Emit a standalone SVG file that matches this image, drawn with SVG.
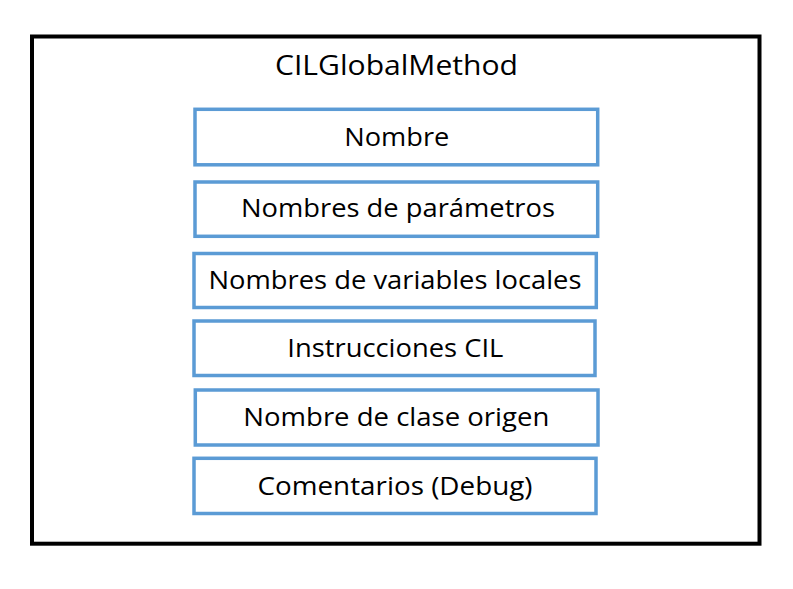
<svg xmlns="http://www.w3.org/2000/svg" width="793" height="589" viewBox="0 0 793 589">
<style>
.frame{fill:#fff;stroke:#000;stroke-width:4}
.box{fill:#fff;stroke:#5B9BD5;stroke-width:3.5}
.t{font-family:"Open Sans","Noto Sans","Liberation Sans",sans-serif;fill:#000;text-anchor:middle}
.lbl{font-size:26px}
.title{font-size:28px}
</style>
<rect width="793" height="589" fill="#fff"/>
<g id="CILGlobalMethod">
<rect class="frame" x="32" y="36.5" width="727.5" height="507.2"/>
<text class="t title" x="396.5" y="75" textLength="243" lengthAdjust="spacingAndGlyphs">CILGlobalMethod</text>
</g>
<g id="nombre">
<rect class="box" x="195" y="109.3" width="402.7" height="55.5"/>
<text class="t lbl" x="396.8" y="146" textLength="105" lengthAdjust="spacingAndGlyphs">Nombre</text>
</g>
<g id="parametros">
<rect class="box" x="195" y="182" width="402.7" height="54.3"/>
<text class="t lbl" x="398" y="216.7" textLength="314" lengthAdjust="spacingAndGlyphs">Nombres de parámetros</text>
</g>
<g id="variables">
<rect class="box" x="194" y="253.5" width="402.3" height="54"/>
<text class="t lbl" x="395" y="289.3" textLength="373" lengthAdjust="spacingAndGlyphs">Nombres de variables locales</text>
</g>
<g id="instrucciones">
<rect class="box" x="194" y="321" width="401" height="54.5"/>
<text class="t lbl" x="395.3" y="356.7" textLength="216" lengthAdjust="spacingAndGlyphs">Instrucciones CIL</text>
</g>
<g id="clase">
<rect class="box" x="195.3" y="390" width="402.7" height="55"/>
<text class="t lbl" x="396.3" y="425.7" textLength="306" lengthAdjust="spacingAndGlyphs">Nombre de clase origen</text>
</g>
<g id="comentarios">
<rect class="box" x="194" y="458.3" width="402" height="55.2"/>
<text class="t lbl" x="395" y="495" textLength="275" lengthAdjust="spacingAndGlyphs">Comentarios (Debug)</text>
</g>
<g id="connectors"/>
</svg>
